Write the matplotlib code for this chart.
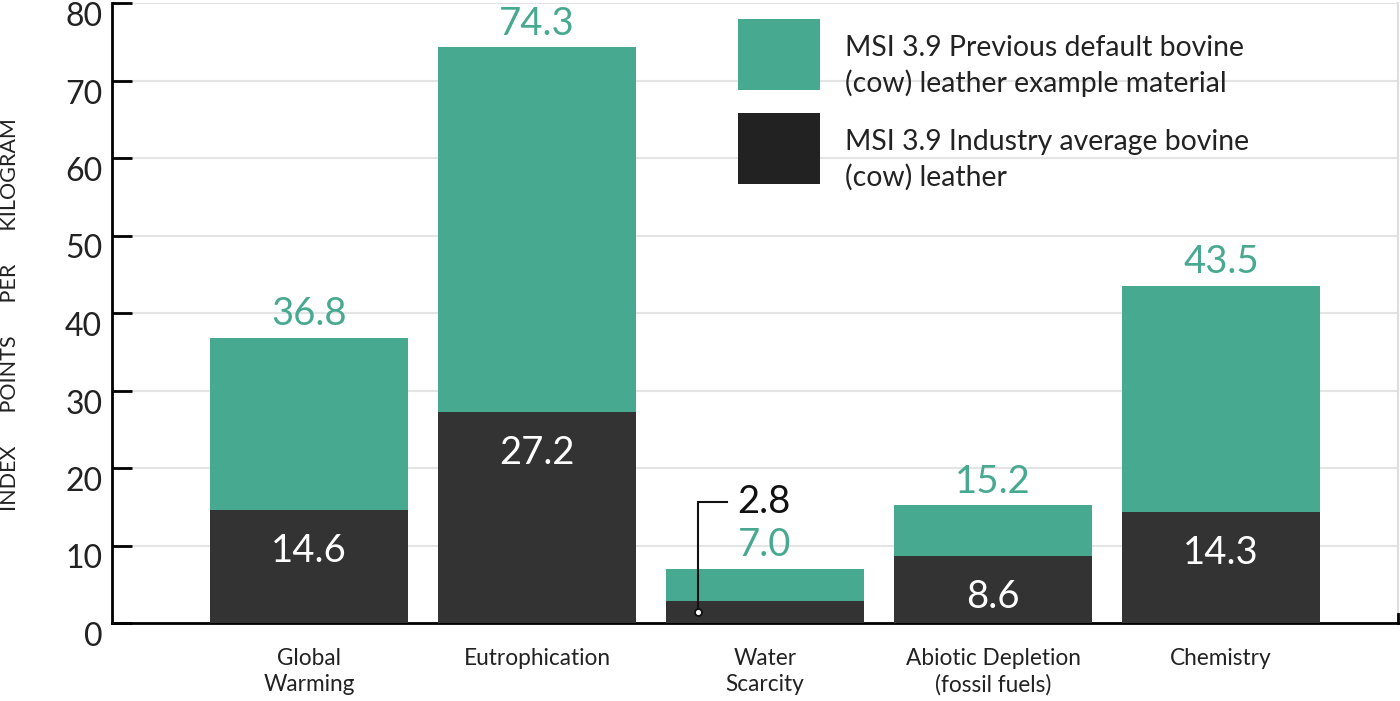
import matplotlib
matplotlib.use("Agg")
import matplotlib.pyplot as plt
import matplotlib.transforms as mtransforms
from matplotlib.patches import Rectangle
import numpy as np

plt.rcParams['font.family'] = ['Lato', 'DejaVu Sans']

categories = ["Global\nWarming", "Eutrophication", "Water\nScarcity",
              "Abiotic Depletion\n(fossil fuels)", "Chemistry"]
previous_default = [36.8, 74.3, 7.0, 15.2, 43.5]
industry_average = [14.6, 27.2, 2.8, 8.6, 14.3]
yticks = [0, 10, 20, 30, 40, 50, 60, 70, 80]
legend_labels = ["MSI 3.9 Previous default bovine\n(cow) leather example material",
                 "MSI 3.9 Industry average bovine\n(cow) leather"]
ylabel_text = "INDEX      POINTS      PER      KILOGRAM"

GREEN = "#48a991"
DARK = "#333333"
DARK_LEG = "#222222"
TXT = "#222222"

W, H = 1400, 701
fig = plt.figure(figsize=(14, 7.01), dpi=100)
ax = fig.add_axes([112/W, 1-623/H, (1398-112)/W, (623-3)/H])

x = np.arange(len(categories))
w = 0.868
ax.bar(x, previous_default, width=w, color=GREEN, zorder=2)
ax.bar(x, industry_average, width=w, color=DARK, zorder=3)

ax.set_xlim(-0.864, 4.776)
ax.set_ylim(0, 80)
ax.set_yticks(yticks)
ax.set_yticklabels([str(t) for t in yticks])
ax.set_xticks(x)
ax.set_xticklabels(categories)

ax.yaxis.grid(True, color="#e4e4e4", linewidth=1.5, zorder=0)
ax.set_axisbelow(True)

ax.spines["top"].set_visible(False)
ax.spines["right"].set_color("#dddddd")
ax.spines["right"].set_linewidth(1.5)
ax.spines["left"].set_linewidth(2)
ax.spines["bottom"].set_linewidth(2)
ax.spines["left"].set_color("black")
ax.spines["bottom"].set_color("black")

ax.tick_params(axis="y", direction="in", length=14.4, width=2, color="black",
               labelsize=23, labelcolor=TXT, pad=7)
ax.tick_params(axis="x", length=0, labelsize=16.3, labelcolor=TXT, pad=18)

off = mtransforms.ScaledTranslation(0, -11/100, fig.dpi_scale_trans)
for lab in ax.get_yticklabels():
    lab.set_transform(lab.get_transform() + off)
for lab in ax.get_xticklabels():
    lab.set_linespacing(1.3)

# value labels
for i, (g, d) in enumerate(zip(previous_default, industry_average)):
    ax.annotate(f"{g:.1f}", xy=(i, g), xytext=(0, 17), textcoords="offset points",
                ha="center", va="center", fontsize=27.5, color=GREEN, zorder=5)
    if d > 5:
        ax.annotate(f"{d:.1f}", xy=(i, d), xytext=(0, -29.5), textcoords="offset points",
                    ha="center", va="center", fontsize=27.5, color="white", zorder=5)
    else:
        lx = i - 0.295
        ly_top = 15.6
        ax.plot([lx, lx, lx + 0.13], [d / 2, ly_top, ly_top], color="#111111",
                linewidth=1.5, zorder=6, solid_joinstyle="miter")
        ax.plot([lx], [d / 2], marker="o", markersize=5, markerfacecolor="white",
                markeredgecolor="#111111", markeredgewidth=1.3, zorder=7)
        ax.annotate(f"{d:.1f}", xy=(lx + 0.13, ly_top), xytext=(7, 0),
                    textcoords="offset points", ha="left", va="center",
                    fontsize=27.5, color="#111111", zorder=5)

# legend (drawn manually in figure pixel coordinates)
leg_colors = [GREEN, DARK_LEG]
sw_top = [19, 113]
for c, top, lab in zip(leg_colors, sw_top, legend_labels):
    fig.add_artist(Rectangle((738/W, 1-(top+71)/H), 82/W, 71/H,
                             transform=fig.transFigure, facecolor=c, edgecolor="none"))
    fig.text(845/W, 1-(top+47)/H, lab, ha="left", va="center", fontsize=20.4,
             color=TXT, linespacing=1.4)

fig.text(10/W, 1-315/H, ylabel_text, rotation=90, ha="center", va="center",
         fontsize=15.5, color=TXT)

# small right-end tick on the baseline
ax.plot([1, 1], [0, 0.014], transform=ax.transAxes, color="black", linewidth=2,
        clip_on=False, zorder=6)

fig.savefig("out.png", dpi=100)
